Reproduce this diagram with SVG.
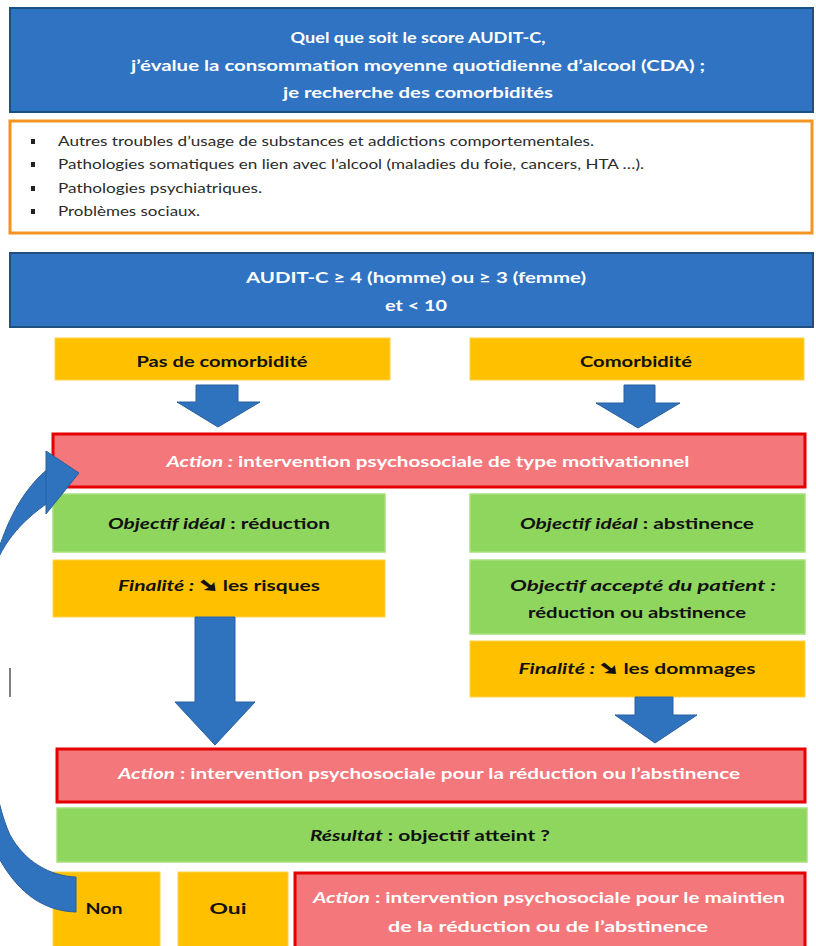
<svg xmlns="http://www.w3.org/2000/svg" width="816" height="946" viewBox="0 0 816 946">
<defs>
<style>
.t{font-family:Lato,"Liberation Sans","DejaVu Sans",sans-serif;font-weight:bold;font-size:16px;text-anchor:middle}
.l{font-family:Lato,"Liberation Sans","DejaVu Sans",sans-serif;font-size:13px;fill:#2b2b2b}
.w{fill:#ffffff}
.k{fill:#111111}
.i{font-style:italic}
.ar{font-family:"DejaVu Sans",sans-serif;font-weight:bold;font-size:17px;stroke:#111;stroke-width:1.6}
.blue{fill:#2f73c2;stroke:#1f4e80;stroke-width:2}
.org{fill:#ffffff;stroke:#f39422;stroke-width:3}
.yel{fill:#ffc000;stroke:#fcd34a;stroke-width:1}
.grn{fill:#8fd65e;stroke:#a6e07e;stroke-width:1.5}
.red{fill:#f3777b;stroke:#e40000;stroke-width:3}
.arr{fill:#2f72be;stroke:#2a5f9c;stroke-width:1}
</style>
</defs>
<rect width="816" height="946" fill="#ffffff"/>

<g id="n-top">
<rect class="blue" x="10" y="8" width="803" height="104"/>
<text class="t w" x="418" y="43" textLength="255" lengthAdjust="spacingAndGlyphs">Quel que soit le score AUDIT-C,</text>
<text class="t w" x="418" y="71" textLength="574" lengthAdjust="spacingAndGlyphs">j’évalue la consommation moyenne quotidienne d’alcool (CDA) ;</text>
<text class="t w" x="418" y="98" textLength="270" lengthAdjust="spacingAndGlyphs">je recherche des comorbidités</text>
</g>

<g id="n-comorb-list">
<rect class="org" x="10" y="121" width="802" height="112"/>
<rect x="31" y="139" width="4" height="5" fill="#222"/>
<rect x="31" y="162" width="4" height="5" fill="#222"/>
<rect x="31" y="186" width="4" height="5" fill="#222"/>
<rect x="31" y="209" width="4" height="5" fill="#222"/>
<text class="l" x="58" y="146" textLength="536" lengthAdjust="spacingAndGlyphs">Autres troubles d’usage de substances  et addictions comportementales.</text>
<text class="l" x="58" y="169" textLength="586" lengthAdjust="spacingAndGlyphs">Pathologies somatiques en lien avec l’alcool (maladies du foie, cancers, HTA …).</text>
<text class="l" x="58" y="193" textLength="204" lengthAdjust="spacingAndGlyphs">Pathologies psychiatriques.</text>
<text class="l" x="58" y="216" textLength="142" lengthAdjust="spacingAndGlyphs">Problèmes sociaux.</text>
</g>

<g id="n-audit">
<rect class="blue" x="10" y="253" width="803" height="74"/>
<text class="t w" x="416" y="283" textLength="340" lengthAdjust="spacingAndGlyphs">AUDIT-C ≥ 4 (homme) ou ≥ 3 (femme)</text>
<text class="t w" x="416" y="311" textLength="62" lengthAdjust="spacingAndGlyphs">et &lt; 10</text>
</g>

<g id="n-pas-comorb">
<rect class="yel" x="55" y="338" width="335" height="42"/>
<text class="t k" x="222" y="367" textLength="171" lengthAdjust="spacingAndGlyphs">Pas de comorbidité</text>
</g>

<g id="n-comorb">
<rect class="yel" x="470" y="338" width="334" height="42"/>
<text class="t k" x="636" y="367" textLength="112" lengthAdjust="spacingAndGlyphs">Comorbidité</text>
</g>

<g id="n-action1">
<rect class="red" x="53" y="434" width="752" height="53"/>
<text class="t w" x="428" y="467" textLength="523" lengthAdjust="spacingAndGlyphs"><tspan class="i">Action :</tspan> intervention psychosociale de type motivationnel</text>
</g>

<g id="n-obj-reduc">
<rect class="grn" x="53" y="494" width="332" height="58"/>
<text class="t k" x="219" y="529" textLength="222" lengthAdjust="spacingAndGlyphs"><tspan class="i">Objectif idéal</tspan> : réduction</text>
</g>

<g id="n-obj-abst">
<rect class="grn" x="470" y="494" width="335" height="58"/>
<text class="t k" x="637" y="529" textLength="234" lengthAdjust="spacingAndGlyphs"><tspan class="i">Objectif idéal</tspan> : abstinence</text>
</g>

<g id="n-fin-risques">
<rect class="yel" x="53" y="560" width="332" height="57"/>
<text class="t k" x="219" y="591" textLength="202" lengthAdjust="spacingAndGlyphs"><tspan class="i">Finalité : </tspan><tspan class="ar">➘</tspan> les risques</text>
</g>

<g id="n-obj-accepte">
<rect class="grn" x="470" y="560" width="335" height="74"/>
<text class="t k i" x="643" y="591" textLength="266" lengthAdjust="spacingAndGlyphs">Objectif accepté du patient :</text>
<text class="t k" x="637" y="618" textLength="218" lengthAdjust="spacingAndGlyphs">réduction ou abstinence</text>
</g>

<g id="n-fin-dommages">
<rect class="yel" x="470" y="641" width="335" height="56"/>
<text class="t k" x="637" y="674" textLength="237" lengthAdjust="spacingAndGlyphs"><tspan class="i">Finalité : </tspan><tspan class="ar">➘</tspan> les dommages</text>
</g>

<g id="n-action2">
<rect class="red" x="57" y="749" width="748" height="53"/>
<text class="t w" x="429" y="779" textLength="622" lengthAdjust="spacingAndGlyphs"><tspan class="i">Action</tspan> : intervention psychosociale pour la réduction ou l’abstinence</text>
</g>

<g id="n-resultat">
<rect class="grn" x="57" y="808" width="750" height="54"/>
<text class="t k" x="430" y="841" textLength="240" lengthAdjust="spacingAndGlyphs"><tspan class="i">Résultat</tspan> : objectif atteint ?</text>
</g>

<g id="n-non">
<rect class="yel" x="53" y="872" width="107" height="80"/>
<text class="t k" x="104" y="914" textLength="37" lengthAdjust="spacingAndGlyphs">Non</text>
</g>

<g id="n-oui">
<rect class="yel" x="178" y="872" width="110" height="80"/>
<text class="t k" x="228" y="914" textLength="37" lengthAdjust="spacingAndGlyphs">Oui</text>
</g>

<g id="n-action3">
<rect class="red" x="295" y="873" width="510" height="80"/>
<text class="t w" x="549" y="903" textLength="472" lengthAdjust="spacingAndGlyphs"><tspan class="i">Action</tspan> : intervention psychosociale pour le maintien</text>
<text class="t w" x="548" y="932" textLength="320" lengthAdjust="spacingAndGlyphs">de la réduction ou de l’abstinence</text>
</g>

<line x1="10" y1="668" x2="10" y2="697" stroke="#555" stroke-width="1.5"/>

<g id="connectors">
<polygon class="arr" points="196,385 238,385 238,402 260,402 218,427 177,402 196,402"/>
<polygon class="arr" points="624,385 655,385 655,403 680,403 638,428 596,403 624,403"/>
<polygon class="arr" points="195,617 235,617 235,702 255,702 215,745 175,702 195,702"/>
<polygon class="arr" points="635,697 673,697 673,715 697,715 655,743 615,715 635,715"/>
<path class="arr" d="M 49 502 C 20 522, 0 545, -10 580 C -40 680, -35 790, 0 860 C 20 895, 45 911, 76 912 L 76 877 C 50 876, 25 862, 10 835 C -15 780, -20 660, 0 545 C 12 510, 28 485, 49 468 Z"/>
<polygon class="arr" points="46,451 79,473 46,514"/>
</g>
</svg>
